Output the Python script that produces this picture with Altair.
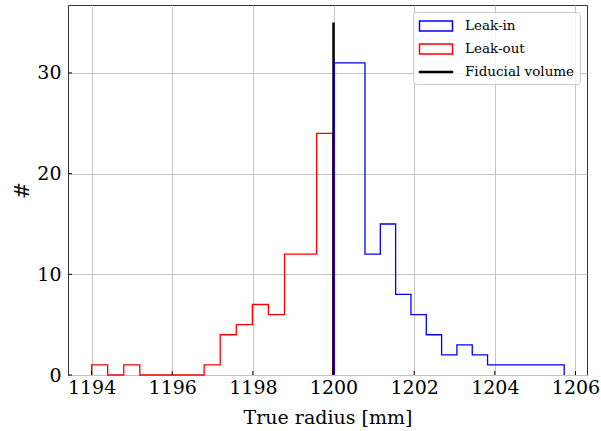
import altair as alt
import numpy as np
import pandas as pd

# Histogram contents (counts per bin) for the two leak populations
leak_in_range = (1200.02, 1205.72)
leak_in_counts = [31, 31, 12, 15, 8, 6, 4, 2, 3, 2, 1, 1, 1, 1, 1]

leak_out_range = (1194.0, 1199.98)
leak_out_counts = [1, 0, 1, 0, 0, 0, 0, 1, 4, 5, 7, 6, 12, 12, 24]

# Fiducial volume boundary
fiducial_radius = 1200.0
fiducial_top = 35

x_ticks = [1194, 1196, 1198, 1200, 1202, 1204, 1206]
y_ticks = [0, 10, 20, 30]

series_names = ["Leak-in", "Leak-out", "Fiducial volume"]
series_colors = ["#0000ff", "#ff0000", "#000000"]

FONT = "DejaVu Serif"
W, H = 519, 370


def step_outline(lo, hi, counts):
    """Open step outline of a histogram, like histtype='step'."""
    edges = np.linspace(lo, hi, len(counts) + 1)
    xs, ys = [edges[0]], [0]
    for i, c in enumerate(counts):
        xs += [edges[i], edges[i + 1]]
        ys += [c, c]
    xs.append(edges[-1])
    ys.append(0)
    return pd.DataFrame({"x": xs, "y": ys, "order": range(len(xs))})


x_scale = alt.Scale(domain=[1193.415, 1206.286], nice=False, zero=False)
y_scale = alt.Scale(domain=[0, 36.75], nice=False)

x_axis = alt.Axis(values=x_ticks, title="True radius [mm]", format="d",
                  ticks=False, domain=False, labelPadding=3,
                  labelFont=FONT, labelFontSize=19, labelColor="black",
                  titleFont=FONT, titleFontSize=19, titleFontWeight="normal",
                  titleColor="black", titlePadding=11,
                  grid=True, gridColor="#c4c4c4", gridWidth=1)
y_axis = alt.Axis(values=y_ticks, title="#", format="d",
                  ticks=False, domain=False, labelPadding=7,
                  labelFont=FONT, labelFontSize=19, labelColor="black",
                  titleFont=FONT, titleFontSize=20, titleFontWeight="normal",
                  titleColor="#111111", titlePadding=4,
                  grid=True, gridColor="#c4c4c4", gridWidth=1)

out_df = step_outline(*leak_out_range, leak_out_counts)
in_df = step_outline(*leak_in_range, leak_in_counts)

# Base layer carries the axes and grid
axes_layer = alt.Chart(pd.DataFrame({"x": [x_ticks[0]], "y": [0]})).mark_point(opacity=0).encode(
    x=alt.X("x:Q", scale=x_scale, axis=x_axis),
    y=alt.Y("y:Q", scale=y_scale, axis=y_axis),
)

leak_out_line = alt.Chart(out_df).mark_line(color="#ff0000", strokeWidth=1.3, interpolate="linear").encode(
    x=alt.X("x:Q", scale=x_scale), y=alt.Y("y:Q", scale=y_scale), order="order:Q"
)
leak_in_line = alt.Chart(in_df).mark_line(color="#0000ff", strokeWidth=1.3, interpolate="linear").encode(
    x=alt.X("x:Q", scale=x_scale), y=alt.Y("y:Q", scale=y_scale), order="order:Q"
)

fiducial = alt.Chart(pd.DataFrame({"x": [fiducial_radius], "y0": [0], "y1": [fiducial_top]})).mark_rule(
    color="black", strokeWidth=2.5
).encode(
    x=alt.X("x:Q", scale=x_scale),
    y=alt.Y("y0:Q", scale=y_scale),
    y2="y1:Q",
)

# Inward tick marks on the bottom and left spines
x_tick_marks = alt.Chart(pd.DataFrame({"x": x_ticks})).mark_rule(color="black", strokeWidth=1).encode(
    x=alt.X("x:Q", scale=x_scale), y=alt.value(H), y2=alt.value(H - 4)
)
y_tick_marks = alt.Chart(pd.DataFrame({"y": y_ticks})).mark_rule(color="black", strokeWidth=1).encode(
    y=alt.Y("y:Q", scale=y_scale), x=alt.value(0), x2=alt.value(4)
)

# Legend entries: outlined boxes for the histograms, a thick line for the boundary
rect_path = "M-2,-0.6H2V0.6H-2Z"
line_path = "M-2,-0.07H2V0.07H-2Z"
legend_layer = alt.Chart(pd.DataFrame({"series": series_names, "x": [fiducial_radius] * 3, "y": [0] * 3})).mark_point(
    opacity=0, filled=False
).encode(
    x=alt.X("x:Q", scale=x_scale),
    y=alt.Y("y:Q", scale=y_scale),
    color=alt.Color("series:N", scale=alt.Scale(domain=series_names, range=series_colors),
                    legend=alt.Legend(title=None, orient="top-right", symbolOpacity=1)),
    shape=alt.Shape("series:N", scale=alt.Scale(domain=series_names, range=[rect_path, rect_path, line_path]),
                    legend=alt.Legend(title=None, orient="top-right", symbolOpacity=1)),
)

chart = alt.layer(
    axes_layer, leak_out_line, fiducial, leak_in_line, x_tick_marks, y_tick_marks, legend_layer
).properties(
    width=W, height=H,
    autosize=alt.AutoSizeParams(type="none"),
    padding={"left": 68, "top": 5, "right": 14, "bottom": 56},
    background="white",
).configure_view(
    stroke="#333333", strokeWidth=1
).configure_legend(
    offset=7, padding=5, fillColor="rgba(255,255,255,0.8)", strokeColor="#cccccc",
    cornerRadius=3, labelFont=FONT, labelFontSize=13.5, labelColor="black",
    symbolSize=272, symbolStrokeWidth=1.5, symbolOffset=9, labelOffset=20,
    rowPadding=6, symbolOpacity=1,
)

chart.save("out.html", embed_options={"renderer": "svg", "actions": False})
